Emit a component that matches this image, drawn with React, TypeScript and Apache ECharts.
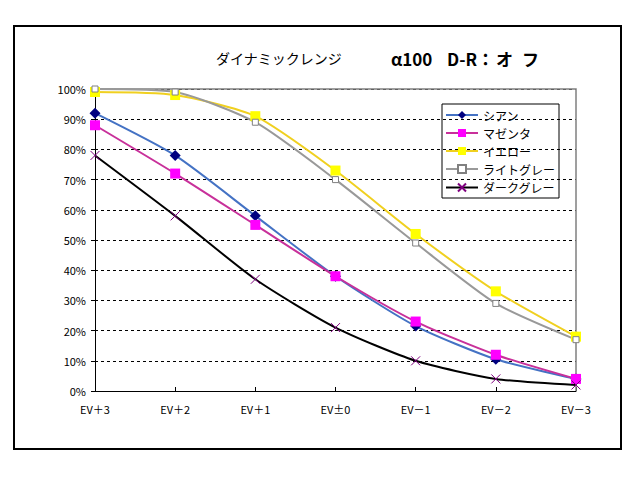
import React, { useEffect, useRef } from "react";
import * as echarts from "echarts";

const categories = ["EV＋3", "EV＋2", "EV＋1", "EV±0", "EV－1", "EV－2", "EV－3"];
const seriesNames = ["シアン", "マゼンタ", "イエロー", "ライトグレー", "ダークグレー"];
const cyan = [92, 78, 58, 38, 21.5, 10.5, 4];
const magenta = [88, 72, 55, 38, 23, 12, 4];
const yellow = [99, 98, 91, 73, 52, 33, 18];
const lightGray = [100, 99, 89, 70, 49, 29, 17];
const darkGray = [78, 58, 37, 21, 10, 4, 2];

const FONT = "'Noto Sans CJK JP', 'DejaVu Sans', sans-serif";

export default function App() {
  const ref = useRef<HTMLDivElement>(null);
  useEffect(() => {
    if (!ref.current) return;
    const chart = echarts.init(ref.current, undefined, { renderer: "svg" });
    const mk = (name: string, data: number[], line: string, symbol: string, size: number, fill: string, border?: string) => ({
      name,
      type: "line",
      data,
      smooth: 0.22,
      symbol,
      symbolSize: size,
      showSymbol: true,
      lineStyle: { color: line, width: 2, type: "solid" },
      itemStyle: { color: fill, borderColor: border || fill, borderWidth: border ? 1 : 0 },
      emphasis: { disabled: true },
    });
    const bold = (text: string, x: number) => ({
      type: "text",
      x,
      y: 58,
      style: { text, fontSize: 17, fontWeight: "bold", fill: "#000", fontFamily: FONT, textVerticalAlign: "middle" },
      z: 100,
    });
    chart.setOption({
      animation: false,
      backgroundColor: "#ffffff",
      textStyle: { fontFamily: FONT },
      grid: { left: 95, top: 89, right: 64, bottom: 89, show: false },
      legend: {
        orient: "vertical",
        left: 442,
        top: 104,
        borderColor: "#000",
        borderWidth: 1,
        padding: [5, 4, 4, 3],
        itemGap: 6,
        itemWidth: 32,
        itemHeight: 10,
        textStyle: { fontSize: 12, color: "#000", fontFamily: FONT },
        data: seriesNames,
      },
      xAxis: {
        type: "category",
        data: categories,
        boundaryGap: false,
        axisLine: { lineStyle: { color: "#000", width: 1 } },
        axisTick: { inside: true, length: 4, lineStyle: { color: "#000" } },
        axisLabel: { color: "#000", fontSize: 11, margin: 12, fontFamily: FONT },
        splitLine: { show: false },
      },
      yAxis: {
        type: "value",
        min: 0,
        max: 100,
        interval: 10,
        axisLine: { show: true, lineStyle: { color: "#000", width: 1 } },
        axisTick: { show: true, length: 4, lineStyle: { color: "#000" } },
        axisLabel: { color: "#000", fontSize: 11, margin: 9, formatter: "{value}%", fontFamily: FONT },
        splitLine: { show: true, lineStyle: { color: "#000", type: [3, 3], width: 1 } },
      },
      graphic: [
        {
          type: "rect",
          shape: { x: 14, y: 26, width: 607, height: 423 },
          style: { fill: "none", stroke: "#000", lineWidth: 2 },
          z: 100,
        },
        {
          type: "polyline",
          shape: { points: [[95, 89], [576, 89], [576, 391]] },
          style: { fill: "none", stroke: "#808080", lineWidth: 1.5 },
          z: 1,
        },
        {
          type: "text",
          x: 216,
          y: 58,
          style: { text: "ダイナミックレンジ", fontSize: 14, fill: "#000", fontFamily: FONT, textVerticalAlign: "middle" },
          z: 100,
        },
        bold("α100", 391),
        bold("D-R", 447),
        bold("：", 477),
        bold("オ", 496),
        bold("フ", 522),
      ],
      series: [
        mk(seriesNames[0], cyan, "#4472C4", "diamond", 11, "#000080"),
        mk(seriesNames[1], magenta, "#C8309A", "rect", 10, "#FF00FF"),
        mk(seriesNames[2], yellow, "#F0D020", "rect", 10, "#FFFF00"),
        mk(seriesNames[3], lightGray, "#999999", "rect", 6, "#ffffff", "#808080"),
        mk(seriesNames[4], darkGray, "#000000", "path://M0,0L10,10M10,0L0,10", 9, "none", "#800080"),
      ],
    });
    return () => chart.dispose();
  }, []);
  return <div ref={ref} style={{ position: "fixed", left: 0, top: 0, width: 640, height: 480 }} />;
}
